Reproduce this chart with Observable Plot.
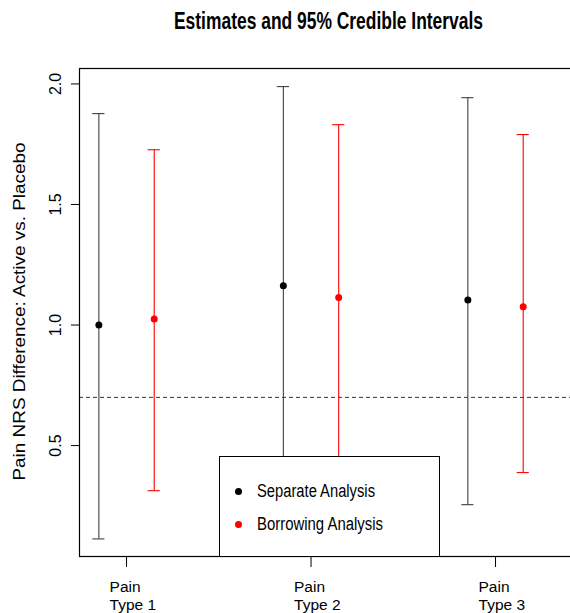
<!DOCTYPE html>
<html><head><meta charset="utf-8">
<script src="https://cdn.jsdelivr.net/npm/d3@7"></script>
<script src="https://cdn.jsdelivr.net/npm/@observablehq/plot@0.6"></script>
<style>
html,body{margin:0;padding:0;background:#fff;}
#wrap{position:relative;width:570px;height:613px;overflow:hidden;font-family:"Liberation Sans",Arial,sans-serif;color:#000;}
#title{position:absolute;left:0;top:0;width:570px;height:45px;}
#title span{position:absolute;left:174px;top:10px;white-space:nowrap;font-family:"Liberation Sans Narrow","Arial Narrow","Liberation Sans",sans-serif;font-weight:bold;font-size:23px;line-height:1;transform-origin:0 0;}
#chart{position:absolute;left:0;top:45px;width:581px;height:568px;}
#chart svg{max-width:none !important;display:block;}
#legend{position:absolute;left:219px;top:456px;width:219px;height:99px;background:#fff;border:1px solid #000;}
#legend .dot{position:absolute;width:7px;height:7px;border-radius:50%;}
#legend .lab{position:absolute;left:37px;white-space:nowrap;font-family:"Liberation Sans Narrow","Arial Narrow","Liberation Sans",sans-serif;font-size:18px;line-height:1;transform-origin:0 0;}
</style></head>
<body>
<div id="wrap">
  <div id="title"><span id="ttl"></span></div>
  <div id="chart"></div>
  <div id="legend"></div>
</div>
<script>
// ---- data ----
const chartTitle = "Estimates and 95% Credible Intervals";
const yLabel = "Pain NRS Difference: Active vs. Placebo";
const categories = ["Pain\nType 1", "Pain\nType 2", "Pain\nType 3"];
const seriesNames = ["Separate Analysis", "Borrowing Analysis"];
const seriesColors = ["#000000", "#ff0000"];
const whiskerColors = ["#404040", "#ff0000"];
const separateEst = [1.00, 1.163, 1.104];
const separateLo  = [0.113, 0.12, 0.255];
const separateHi  = [1.877, 1.989, 1.943];
const borrowEst = [1.025, 1.114, 1.076];
const borrowLo  = [0.313, 0.38, 0.388];
const borrowHi  = [1.727, 1.831, 1.79];
const yTicks = [0.5, 1.0, 1.5, 2.0];
const refLine = 0.7;

// ---- table ----
const rows = [];
categories.forEach((c, i) => {
  rows.push({series: 0, cat: i + 1, est: separateEst[i], lo: separateLo[i], hi: separateHi[i]});
  rows.push({series: 1, cat: i + 1, est: borrowEst[i], lo: borrowLo[i], hi: borrowHi[i]});
});
const dodge = 0.15, cap = 0.033;
const xpos = d => d.cat + (d.series === 0 ? -dodge : dodge);
const catIdx = categories.map((c, i) => i + 1);

const chart = Plot.plot({
  width: 581, height: 568,
  marginLeft: 79, marginRight: 0, marginTop: 23, marginBottom: 57,
  style: {fontFamily: "Liberation Sans, Arial, sans-serif", background: "transparent", color: "#000", maxWidth: "none"},
  x: {domain: [0.745, 3.466]},
  y: {domain: [0.04, 2.064]},
  color: {type: "identity"},
  marks: [
    Plot.ruleY([refLine], {stroke: "#333", strokeDasharray: "4,3"}),
    Plot.ruleX(rows, {x: xpos, y1: "lo", y2: "hi", stroke: d => whiskerColors[d.series], strokeWidth: 1.1}),
    Plot.ruleY(rows, {y: "hi", x1: d => xpos(d) - cap, x2: d => xpos(d) + cap, stroke: d => whiskerColors[d.series], strokeWidth: 1.1}),
    Plot.ruleY(rows, {y: "lo", x1: d => xpos(d) - cap, x2: d => xpos(d) + cap, stroke: d => whiskerColors[d.series], strokeWidth: 1.1}),
    Plot.dot(rows, {x: xpos, y: "est", r: 3.5, fill: d => seriesColors[d.series], stroke: "none"}),
    Plot.frame({stroke: "#000", strokeWidth: 1.2}),
    Plot.axisY({ticks: yTicks, tickSize: 8, tickFormat: () => "", label: null, stroke: "#000"}),
    Plot.axisX({ticks: catIdx, tickSize: 11, tickFormat: () => "", label: null, stroke: "#000"}),
    Plot.text(yTicks, {y: d => d, text: d => d.toFixed(1), frameAnchor: "left", dx: -24, rotate: -90, fontSize: 16, textAnchor: "middle", lineAnchor: "middle", fill: "#000"}),
    Plot.text(categories, {x: (d, i) => i + 1, text: d => d, frameAnchor: "bottom", dx: -17, dy: 23, textAnchor: "start", lineAnchor: "top", lineHeight: 1.16, fontSize: 15.5, fill: "#000"}),
    Plot.text([yLabel], {text: d => d, frameAnchor: "left", dx: -60, dy: -1, rotate: -90, fontSize: 17, textAnchor: "middle", lineAnchor: "middle", fill: "#000"})
  ]
});
document.getElementById("chart").appendChild(chart);

// stretch the y-axis title to the reference's length
chart.querySelectorAll("text").forEach(t => {
  if (t.textContent === yLabel) {
    t.setAttribute("textLength", 338);
    t.setAttribute("lengthAdjust", "spacingAndGlyphs");
  }
});

// title
const ttl = document.getElementById("ttl");
ttl.textContent = chartTitle;
function fitWidth(el, target) {
  const w = el.getBoundingClientRect().width;
  if (w > 0) el.style.transform = `scaleX(${target / w})`;
}
fitWidth(ttl, 309);

// legend
const legend = document.getElementById("legend");
const rowCenters = [34, 67];
const labWidths = [118, 126];
seriesNames.forEach((name, i) => {
  const dot = document.createElement("div");
  dot.className = "dot";
  dot.style.background = seriesColors[i];
  dot.style.left = (18.7 - 3.5) + "px";
  dot.style.top = (rowCenters[i] - 3.5) + "px";
  legend.appendChild(dot);
  const lab = document.createElement("span");
  lab.className = "lab";
  lab.textContent = name;
  lab.style.top = (rowCenters[i] - 9) + "px";
  legend.appendChild(lab);
  fitWidth(lab, labWidths[i]);
});
</script>
</body></html>
